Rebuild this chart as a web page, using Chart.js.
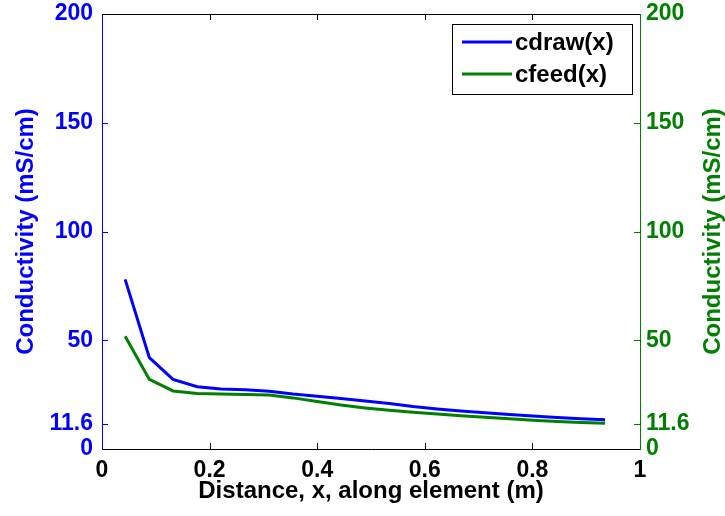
<!DOCTYPE html>
<html lang="en">
<head>
<meta charset="UTF-8">
<title>Conductivity along element</title>
<script src="https://cdn.jsdelivr.net/npm/chart.js"></script>
<style>
  body { margin: 0; background: #fff; }
  canvas { display: block; }
</style>
</head>
<body>
<canvas id="myChart" width="725" height="516"></canvas>
<script>
// values
const distance = [0.043, 0.088, 0.132, 0.177, 0.221, 0.266, 0.311, 0.355, 0.400, 0.444, 0.489,
                  0.534, 0.578, 0.623, 0.667, 0.712, 0.757, 0.801, 0.846, 0.890, 0.935];
const cdraw = [78, 42, 32, 28.6, 27.6, 27.2, 26.6, 25.3, 24.3, 23.2, 22.1,
               20.9, 19.5, 18.4, 17.5, 16.7, 15.9, 15.2, 14.5, 13.9, 13.4];
const cfeed = [51.8, 32, 26.7, 25.5, 25.3, 25.1, 24.8, 23.5, 21.8, 20.2, 18.9,
               17.8, 16.9, 16.1, 15.3, 14.6, 13.9, 13.2, 12.6, 12.2, 11.8];
const xTicks = [0, 0.2, 0.4, 0.6, 0.8, 1];
const yTicks = [0, 11.6, 50, 100, 150, 200];
const yTitle = 'Conductivity (mS/cm)';

const BLUE = 'rgb(0,0,255)';
const GREEN = 'rgb(0,128,0)';
const FONT = "'Liberation Sans', Arial, Helvetica, sans-serif";

function toPoints(ys) {
    return distance.map((x, i) => ({ x: x, y: ys[i] }));
}

// MATLAB style: inward ticks, top box line, boxed legend, right title read upwards
const matlabAxes = {
    id: 'matlabAxes',
    afterDatasetsDraw(chart) {
        const ctx = chart.ctx;
        const a = chart.chartArea;
        const len = 6;
        ctx.save();
        ctx.lineWidth = 1;

        ctx.strokeStyle = '#000';
        ctx.beginPath();
        ctx.moveTo(a.left, a.top + 0.5);
        ctx.lineTo(a.right, a.top + 0.5);
        const xs = chart.scales.x;
        xTicks.forEach(v => {
            if (v === 0 || v === 1) return;
            const px = Math.round(xs.getPixelForValue(v)) + 0.5;
            ctx.moveTo(px, a.bottom);
            ctx.lineTo(px, a.bottom - len);
            ctx.moveTo(px, a.top);
            ctx.lineTo(px, a.top + len);
        });
        ctx.stroke();

        const ys = chart.scales.y;
        ctx.strokeStyle = BLUE;
        ctx.beginPath();
        yTicks.forEach(v => {
            if (v === 0 || v === 200) return;
            const py = Math.round(ys.getPixelForValue(v)) + 0.5;
            ctx.moveTo(a.left, py);
            ctx.lineTo(a.left + len, py);
        });
        ctx.stroke();

        const y2 = chart.scales.y2;
        ctx.strokeStyle = GREEN;
        ctx.beginPath();
        yTicks.forEach(v => {
            if (v === 0 || v === 200) return;
            const py = Math.round(y2.getPixelForValue(v)) + 0.5;
            ctx.moveTo(a.right, py);
            ctx.lineTo(a.right - len, py);
        });
        ctx.stroke();

        // right axis title, rotated like the left one
        ctx.save();
        ctx.translate(713, (a.top + a.bottom) / 2);
        ctx.rotate(-Math.PI / 2);
        ctx.font = 'bold 24px ' + FONT;
        ctx.fillStyle = GREEN;
        ctx.textAlign = 'center';
        ctx.textBaseline = 'middle';
        ctx.fillText(yTitle, 0, 0);
        ctx.restore();

        // legend
        const bw = 180, bh = 70;
        const bx = a.right - 8 - bw, by = a.top + 10;
        ctx.fillStyle = '#fff';
        ctx.fillRect(bx, by, bw, bh);
        ctx.strokeStyle = '#000';
        ctx.strokeRect(bx + 0.5, by + 0.5, bw, bh);
        ctx.font = 'bold 24px ' + FONT;
        ctx.textBaseline = 'middle';
        ctx.textAlign = 'left';
        chart.data.datasets.forEach((ds, i) => {
            const ly = by + 18 + i * 32;
            ctx.strokeStyle = ds.borderColor;
            ctx.lineWidth = 3;
            ctx.beginPath();
            ctx.moveTo(bx + 10, ly);
            ctx.lineTo(bx + 60, ly);
            ctx.stroke();
            ctx.fillStyle = '#000';
            ctx.fillText(ds.label, bx + 63, ly + 1);
        });
        ctx.restore();
    }
};

function fitY(width) {
    return s => {
        s.width = width;
        s.paddingTop = 0;
        s.paddingBottom = 0;
    };
}

const ctx = document.getElementById('myChart').getContext('2d');
const chart = new Chart(ctx, {
    type: 'line',
    data: {
        datasets: [{
            label: 'cdraw(x)',
            data: toPoints(cdraw),
            borderColor: BLUE,
            borderWidth: 3,
            pointRadius: 0,
            tension: 0,
            yAxisID: 'y'
        }, {
            label: 'cfeed(x)',
            data: toPoints(cfeed),
            borderColor: GREEN,
            borderWidth: 3,
            pointRadius: 0,
            tension: 0,
            yAxisID: 'y2'
        }]
    },
    options: {
        responsive: false,
        animation: false,
        layout: { padding: { top: 14, right: 0, bottom: 0, left: 0 } },
        plugins: {
            legend: { display: false },
            tooltip: { enabled: false }
        },
        scales: {
            x: {
                type: 'linear',
                min: 0,
                max: 1,
                afterBuildTicks: s => { s.ticks = xTicks.map(v => ({ value: v })); },
                afterFit: s => { s.height = 67; },
                grid: { drawOnChartArea: false, drawTicks: false },
                border: { color: '#000', width: 1 },
                ticks: {
                    color: '#000',
                    padding: 8,
                    maxRotation: 0,
                    font: { family: FONT, size: 23, weight: 'bold' },
                    callback: v => (v === 0 || v === 1) ? String(v) : v.toFixed(1)
                },
                title: {
                    display: true,
                    text: 'Distance, x, along element (m)',
                    color: '#000',
                    padding: { top: 0, bottom: 13 },
                    font: { family: FONT, size: 24, weight: 'bold', lineHeight: 1 }
                }
            },
            y: {
                type: 'linear',
                position: 'left',
                min: 0,
                max: 200,
                afterBuildTicks: s => { s.ticks = yTicks.map(v => ({ value: v })); },
                afterFit: fitY(102),
                grid: { drawOnChartArea: false, drawTicks: false },
                border: { color: BLUE, width: 1 },
                ticks: {
                    color: BLUE,
                    padding: 9,
                    font: { family: FONT, size: 23, weight: 'bold' },
                    callback: v => String(v)
                },
                title: {
                    display: true,
                    text: yTitle,
                    color: BLUE,
                    padding: { top: 14, bottom: 0 },
                    font: { family: FONT, size: 24, weight: 'bold', lineHeight: 1 }
                }
            },
            y2: {
                type: 'linear',
                position: 'right',
                min: 0,
                max: 200,
                afterBuildTicks: s => { s.ticks = yTicks.map(v => ({ value: v })); },
                afterFit: fitY(85),
                grid: { drawOnChartArea: false, drawTicks: false },
                border: { color: GREEN, width: 1 },
                ticks: {
                    color: GREEN,
                    padding: 6,
                    font: { family: FONT, size: 23, weight: 'bold' },
                    callback: v => String(v)
                }
            }
        }
    },
    plugins: [matlabAxes]
});
</script>
</body>
</html>
